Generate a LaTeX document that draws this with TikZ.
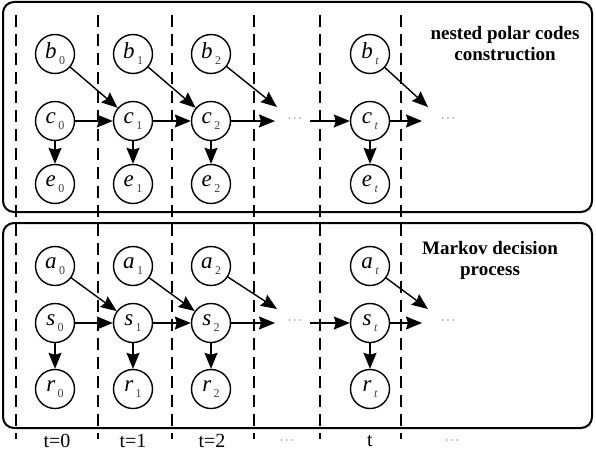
\documentclass[tikz,border=0pt]{standalone}
\usepackage{fontspec}
\setmainfont{Liberation Serif}
\usetikzlibrary{arrows.meta, positioning}

\tikzset{
  state/.style={draw, circle, line width=1.4pt, minimum size=39pt, inner sep=0pt,
    font=\fontsize{23}{23}\selectfont\itshape},
  link/.style={-{Stealth[length=16pt, width=13pt, inset=2pt]}, line width=1.4pt},
  slot/.style={line width=1.8pt, dash pattern=on 12pt off 7pt},
  panel/.style={line width=2pt, rounded corners=11pt},
  caption/.style={font=\fontsize{19}{21}\selectfont\bfseries, align=center},
  tick/.style={font=\fontsize{20}{20}\selectfont},
  dotsmark/.style={font=\fontsize{13}{13}\selectfont, text=black!70},
}
\newcommand{\varlabel}[2]{#1\hspace{2.5pt}\raisebox{-6pt}{\fontsize{12}{12}\selectfont\upshape\color{black!75}#2}}

\begin{document}
\begin{tikzpicture}[x=1pt, y=-1pt]
    \useasboundingbox (0,0) rectangle (596,452);
    % time slots
    \foreach \x in {16,98,172,254,320,401}
        \draw[slot] (\x,15) -- (\x,439);
    % panels
    \draw[panel] (3,2) rectangle (592,212);
    \draw[panel] (3,223) rectangle (592,428);
    \node[caption] (nested) at (505,44) {nested polar codes\\construction};
    \node[caption] (markov) at (490,260) {Markov decision\\process};

    % nodes
    \foreach \i/\x/\s in {0/55/0, 1/133/1, 2/211/2, t/370/{\itshape t}} {
        \node[state] (b\i) at (\x,54)  {\varlabel{b}{\s}};
        \node[state] (c\i) at (\x,121) {\varlabel{c}{\s}};
        \node[state] (e\i) at (\x,184) {\varlabel{e}{\s}};
        \node[state] (a\i) at (\x,266) {\varlabel{a}{\s}};
        \node[state] (s\i) at (\x,323) {\varlabel{s}{\s}};
        \node[state] (r\i) at (\x,389) {\varlabel{r}{\s}};
        \draw[link] (c\i) -- (e\i);
        \draw[link] (s\i) -- (r\i);
    }

    % transitions
    \foreach \i/\j in {0/1, 1/2} {
        \draw[link] (b\i) -- (c\j);
        \draw[link] (c\i) -- (c\j);
        \draw[link] (a\i) -- (s\j);
        \draw[link] (s\i) -- (s\j);
    }

    % open ends
    \coordinate (b2out) at (277,107);
    \coordinate (c2out) at (275,121);
    \coordinate (ctin)  at (310,121);
    \coordinate (btout) at (428,107);
    \coordinate (ctout) at (422,121);
    \coordinate (a2out) at (277,309);
    \coordinate (s2out) at (275,323);
    \coordinate (stin)  at (310,323);
    \coordinate (atout) at (428,309);
    \coordinate (stout) at (422,323);
    \draw[link] (b2) -- (b2out);
    \draw[link] (c2) -- (c2out);
    \draw[link] (ctin) -- (ct);
    \draw[link] (bt) -- (btout);
    \draw[link] (ct) -- (ctout);
    \draw[link] (a2) -- (a2out);
    \draw[link] (s2) -- (s2out);
    \draw[link] (stin) -- (st);
    \draw[link] (at) -- (atout);
    \draw[link] (st) -- (stout);

    \node[dotsmark] (cdots1) at (295,119) {$\cdots$};
    \node[dotsmark] (cdots2) at (448,119) {$\cdots$};
    \node[dotsmark] (sdots1) at (295,321) {$\cdots$};
    \node[dotsmark] (sdots2) at (448,321) {$\cdots$};

    % time labels
    \node[tick] (t0) at (57,441)  {t=0};
    \node[tick] (t1) at (133,441) {t=1};
    \node[tick] (t2) at (212,441) {t=2};
    \node[dotsmark] (tdots1) at (287,441) {$\cdots$};
    \node[tick] (tt) at (370,441) {t};
    \node[dotsmark] (tdots2) at (452,441) {$\cdots$};
\end{tikzpicture}
\end{document}
